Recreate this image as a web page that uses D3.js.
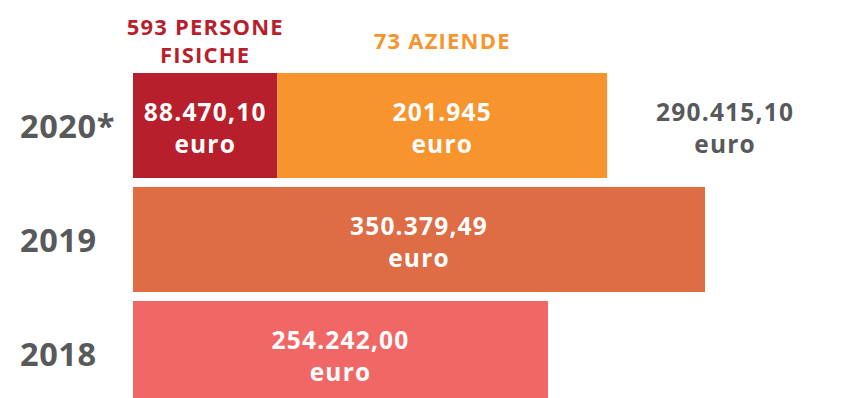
<!DOCTYPE html>
<html>
<head>
<meta charset="utf-8">
<script src="https://cdn.jsdelivr.net/npm/d3@7"></script>
<style>
  html, body { margin: 0; padding: 0; background: #fff; }
  svg { display: block; font-family: "Open Sans", "Noto Sans", sans-serif; font-weight: 700; }
</style>
</head>
<body>
<svg id="chart" width="858" height="398"></svg>
<script>
// Donazioni per anno (euro)
const years = ["2020*", "2019", "2018"];
const personeFisiche = [88470.10, 0, 0];
const aziende = [201945, 0, 0];
const totaleAnno = [0, 350379.49, 254242.00];
const total2020 = 290415.10;

// Donatori 2020
const donorCounts = [593, 73];
const donorLabels = [["PERSONE", "FISICHE"], ["AZIENDE"]];

const yearColors = ["#b81f2d", "#de6c45", "#f16765"];
const aziendeColor = "#f7942e";
const textGray = "#58595b";

const it = d3.formatLocale({ decimal: ",", thousands: ".", grouping: [3], currency: ["", " €"] });
const fmt2 = it.format(",.2f");
const fmt0 = it.format(",.0f");

const svg = d3.select("#chart");

const x = d3.scaleLinear().domain([0, 350379.49]).range([133, 705]);
const y = d3.scaleBand().domain(years).range([73, 406]).paddingInner(9 / 114).paddingOuter(0);

const rows = years.map((yr, i) => ({
  year: yr,
  persone: personeFisiche[i],
  aziende: aziende[i],
  totale: totaleAnno[i]
}));

const stack = d3.stack().keys(["persone", "aziende", "totale"]);
const layers = stack(rows);

const segColor = (key, i) => key === "aziende" ? aziendeColor : yearColors[i];

// Bars
layers.forEach(layer => {
  svg.append("g")
    .selectAll("rect")
    .data(layer.map((d, i) => ({ d, i, key: layer.key })).filter(e => e.d[1] - e.d[0] > 0))
    .join("rect")
    .attr("x", e => x(e.d[0]))
    .attr("y", e => y(years[e.i]))
    .attr("width", e => x(e.d[1]) - x(e.d[0]))
    .attr("height", y.bandwidth())
    .attr("fill", e => segColor(e.key, e.i));
});

// Two-line amount label: number on top, "euro" below
function amountLabel(cx, cy, str, color) {
  const g = svg.append("g")
    .attr("text-anchor", "middle")
    .attr("fill", color)
    .attr("font-size", 24.5)
    .attr("letter-spacing", 1.2);
  g.append("text").attr("x", cx).attr("y", cy - 5).text(str);
  g.append("text").attr("x", cx).attr("y", cy + 27).text("euro");
}

// Value labels inside the bars
const decimals = { persone: 2, aziende: 0, totale: 2 };
layers.forEach(layer => {
  layer.forEach((d, i) => {
    const v = d[1] - d[0];
    if (v <= 0) return;
    const cx = (x(d[0]) + x(d[1])) / 2;
    const cy = y(years[i]) + y.bandwidth() / 2;
    const f = decimals[layer.key] === 2 ? fmt2 : fmt0;
    amountLabel(cx, cy, f(v), "#fff");
  });
});

// Year labels
svg.append("g")
  .selectAll("text")
  .data(years)
  .join("text")
  .attr("x", 20)
  .attr("y", d => y(d) + y.bandwidth() / 2 + 12)
  .attr("fill", textGray)
  .attr("font-size", 32.5)
  .attr("letter-spacing", 0.6)
  .text(d => d);

// Total for 2020, to the right of the stacked bar
{
  const endX = x(personeFisiche[0] + aziende[0]);
  amountLabel(endX + 118, y(years[0]) + y.bandwidth() / 2, fmt2(total2020), textGray);
}

// Donor-count headers above the 2020 segments
const headColors = [yearColors[0], aziendeColor];
const segs2020 = [
  [x(0), x(personeFisiche[0])],
  [x(personeFisiche[0]), x(personeFisiche[0] + aziende[0])]
];
donorCounts.forEach((n, k) => {
  const cx = (segs2020[k][0] + segs2020[k][1]) / 2;
  const lines = donorLabels[k].slice();
  lines[0] = n + " " + lines[0];
  const g = svg.append("g")
    .attr("text-anchor", "middle")
    .attr("fill", headColors[k])
    .attr("font-size", 22)
    .attr("letter-spacing", 1.2);
  if (lines.length === 2) {
    g.append("text").attr("x", cx).attr("y", 35).text(lines[0]);
    g.append("text").attr("x", cx).attr("y", 63).text(lines[1]);
  } else {
    g.append("text").attr("x", cx).attr("y", 49).text(lines[0]);
  }
});
</script>
</body>
</html>
